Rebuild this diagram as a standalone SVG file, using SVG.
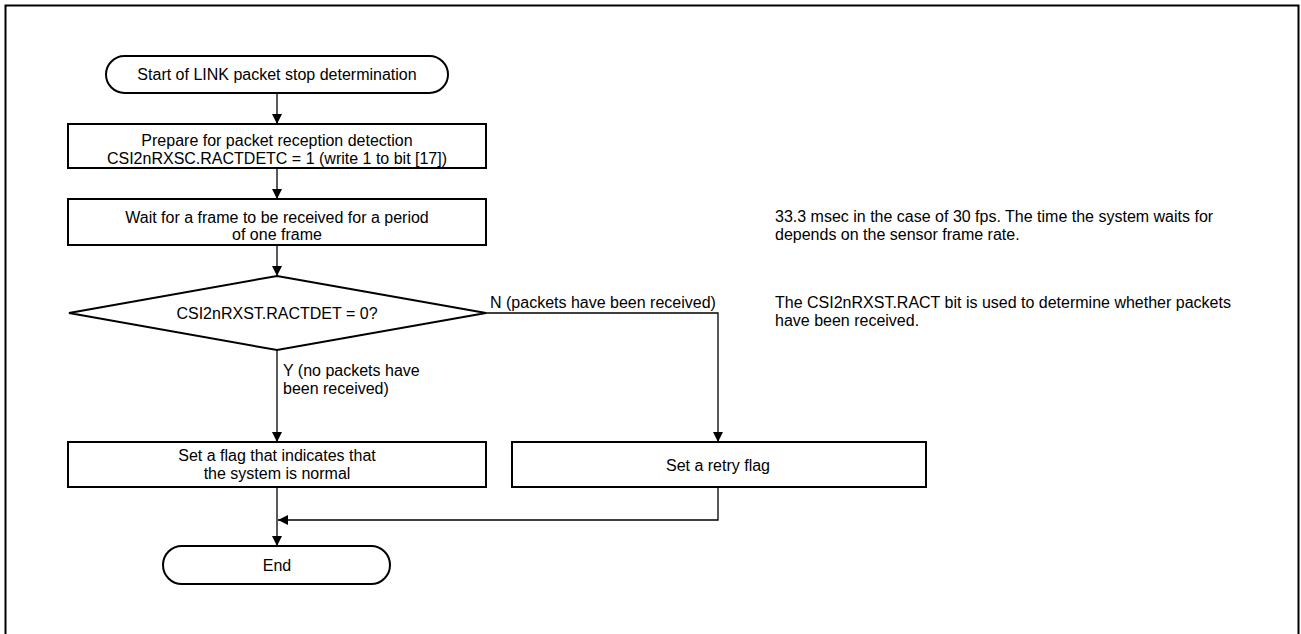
<svg xmlns="http://www.w3.org/2000/svg" width="1301" height="634" viewBox="0 0 1301 634">
<style>
text{font-family:"Liberation Sans",Arial,sans-serif;font-size:16px;fill:#000}
.c{text-anchor:middle}
.box{fill:#fff;stroke:#000;stroke-width:2}
.ln{fill:none;stroke:#000;stroke-width:1.3}
</style>
<defs>
<marker id="ah" viewBox="0 0 10 10" refX="10" refY="5" markerWidth="10" markerHeight="10" markerUnits="userSpaceOnUse" orient="auto">
<path d="M0,0 L10,5 L0,10 z" fill="#000"/>
</marker>
</defs>
<rect x="5.5" y="5.5" width="1293" height="700" fill="#fff" stroke="#000" stroke-width="2"/>
<g id="connectors">
<line class="ln" x1="277" y1="93" x2="277" y2="124" marker-end="url(#ah)"/>
<line class="ln" x1="277" y1="168" x2="277" y2="199" marker-end="url(#ah)"/>
<line class="ln" x1="277" y1="245" x2="277" y2="276" marker-end="url(#ah)"/>
<line class="ln" x1="277" y1="350" x2="277" y2="442" marker-end="url(#ah)"/>
<polyline class="ln" points="486,313 718,313 718,442" marker-end="url(#ah)"/>
<line class="ln" x1="277" y1="487" x2="277" y2="546" marker-end="url(#ah)"/>
<polyline class="ln" points="718,487 718,520 278,520" marker-end="url(#ah)"/>
<text x="490" y="308">N (packets have been received)</text>
<text x="283" y="376">Y (no packets have</text>
<text x="283" y="394">been received)</text>
</g>
<g id="start">
<rect class="box" x="106" y="56" width="342" height="37" rx="18.5" ry="18.5"/>
<text class="c" x="277" y="80">Start of LINK packet stop determination</text>
</g>
<g id="prepare">
<rect class="box" x="68" y="124" width="418" height="44"/>
<text class="c" x="277" y="146">Prepare for packet reception detection</text>
<text class="c" x="277" y="164">CSI2nRXSC.RACTDETC = 1 (write 1 to bit [17])</text>
</g>
<g id="wait">
<rect class="box" x="68" y="199" width="418" height="46"/>
<text class="c" x="277" y="223">Wait for a frame to be received for a period</text>
<text class="c" x="277" y="240">of one frame</text>
</g>
<g id="decision">
<polygon class="box" points="277,276 486,313 277,350 69,313"/>
<text class="c" x="277" y="319">CSI2nRXST.RACTDET = 0?</text>
</g>
<g id="setflag">
<rect class="box" x="68" y="442" width="418" height="45"/>
<text class="c" x="277" y="461">Set a flag that indicates that</text>
<text class="c" x="277" y="479">the system is normal</text>
</g>
<g id="retry">
<rect class="box" x="512" y="442" width="414" height="45"/>
<text class="c" x="718" y="471">Set a retry flag</text>
</g>
<g id="end">
<rect class="box" x="163" y="546" width="227" height="38" rx="19" ry="19"/>
<text class="c" x="277" y="571">End</text>
</g>
<g id="notes">
<text x="775" y="222">33.3 msec in the case of 30 fps. The time the system waits for</text>
<text x="775" y="240">depends on the sensor frame rate.</text>
<text x="775" y="308">The CSI2nRXST.RACT bit is used to determine whether packets</text>
<text x="775" y="326">have been received.</text>
</g>
</svg>
